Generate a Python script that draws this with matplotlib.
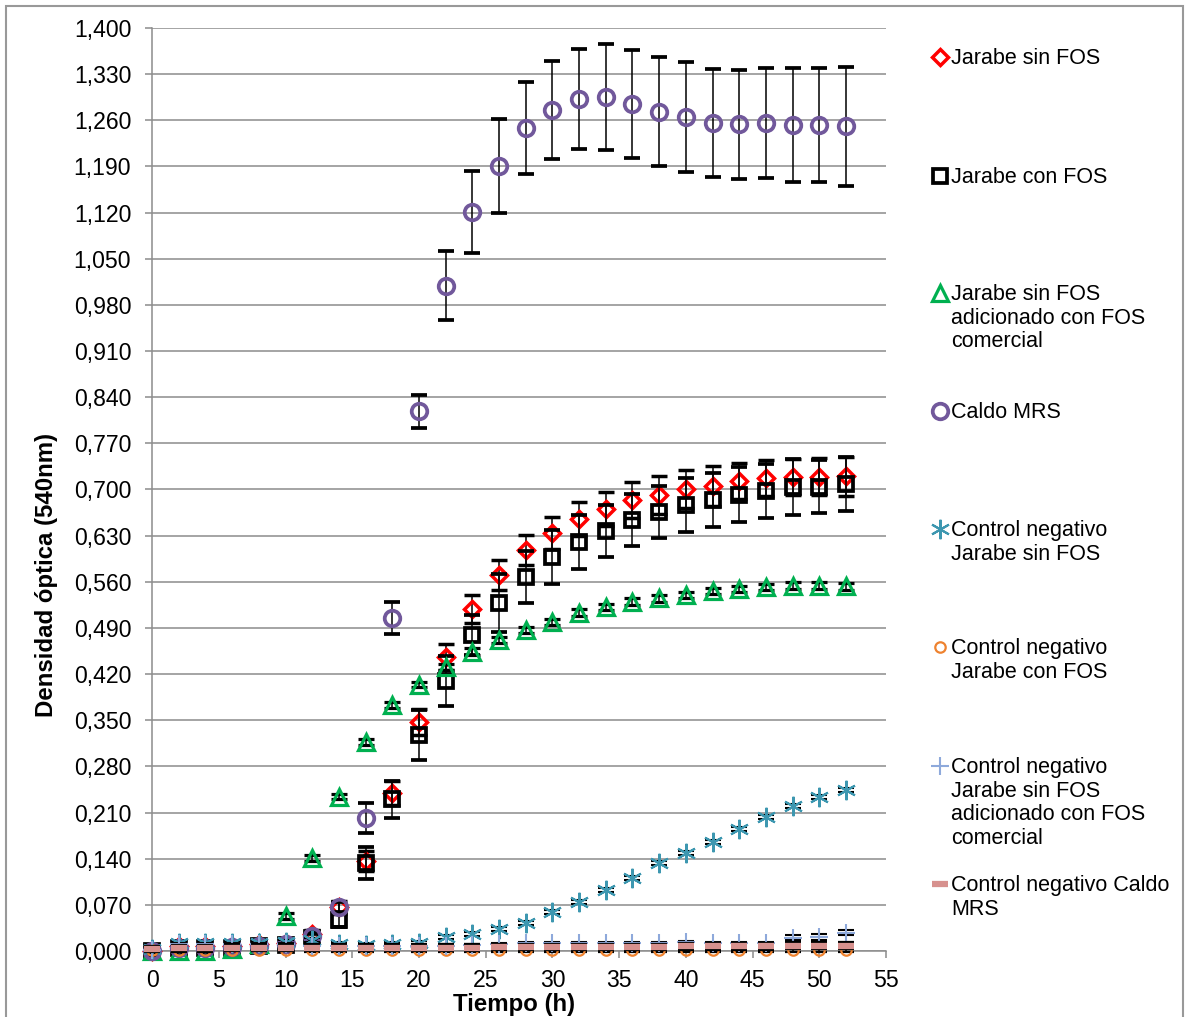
import matplotlib
matplotlib.use("Agg")
import matplotlib.pyplot as plt
from matplotlib.lines import Line2D
from matplotlib.patches import Rectangle
from matplotlib.ticker import FuncFormatter, MultipleLocator

plt.rcParams['font.family'] = ['Liberation Sans', 'DejaVu Sans']

# Sampling times (h)
tiempo = [0, 2, 4, 6, 8, 10, 12, 14, 16, 18, 20, 22, 24, 26, 28, 30,
          32, 34, 36, 38, 40, 42, 44, 46, 48, 50, 52]

# Optical density (540 nm) for each culture medium, with standard deviations
jarabe_sin_fos = [0.000, 0.008, 0.008, 0.008, 0.010, 0.012, 0.026, 0.066, 0.137, 0.240,
                  0.347, 0.446, 0.519, 0.570, 0.608, 0.634, 0.655, 0.670, 0.684, 0.692,
                  0.701, 0.705, 0.713, 0.717, 0.719, 0.719, 0.720]
jarabe_sin_fos_sd = [0.002, 0.003, 0.003, 0.003, 0.003, 0.004, 0.006, 0.010, 0.015, 0.018,
                     0.020, 0.020, 0.021, 0.023, 0.023, 0.025, 0.026, 0.026, 0.027, 0.029,
                     0.029, 0.030, 0.027, 0.027, 0.027, 0.028, 0.030]

jarabe_con_fos = [0.000, 0.005, 0.005, 0.005, 0.007, 0.009, 0.020, 0.047, 0.133, 0.230,
                  0.328, 0.409, 0.479, 0.528, 0.567, 0.598, 0.620, 0.637, 0.654, 0.666,
                  0.677, 0.684, 0.692, 0.698, 0.704, 0.704, 0.708]
jarabe_con_fos_sd = [0.002, 0.003, 0.003, 0.003, 0.003, 0.004, 0.006, 0.010, 0.024, 0.028,
                     0.038, 0.038, 0.030, 0.044, 0.039, 0.041, 0.041, 0.039, 0.039, 0.039,
                     0.041, 0.041, 0.042, 0.041, 0.042, 0.040, 0.041]

jarabe_fos_comercial = [0.000, 0.000, 0.000, 0.003, 0.010, 0.053, 0.141, 0.234, 0.317, 0.373,
                        0.404, 0.431, 0.454, 0.472, 0.487, 0.499, 0.513, 0.522, 0.530, 0.535,
                        0.540, 0.546, 0.549, 0.552, 0.554, 0.554, 0.553]
jarabe_fos_comercial_sd = [0.002, 0.002, 0.002, 0.002, 0.003, 0.004, 0.004, 0.004, 0.004, 0.004,
                           0.004, 0.005, 0.005, 0.005, 0.005, 0.005, 0.005, 0.005, 0.005, 0.005,
                           0.005, 0.005, 0.005, 0.005, 0.005, 0.005, 0.005]

caldo_mrs = [0.000, 0.005, 0.005, 0.006, 0.007, 0.010, 0.023, 0.067, 0.202, 0.505,
             0.819, 1.009, 1.121, 1.191, 1.248, 1.276, 1.292, 1.295, 1.285, 1.273,
             1.265, 1.256, 1.254, 1.256, 1.253, 1.253, 1.251]
caldo_mrs_sd = [0.002, 0.003, 0.003, 0.003, 0.003, 0.004, 0.005, 0.008, 0.023, 0.024,
                0.025, 0.052, 0.062, 0.071, 0.070, 0.074, 0.076, 0.080, 0.082, 0.083,
                0.083, 0.082, 0.083, 0.083, 0.087, 0.087, 0.090]

cn_jarabe_sin_fos = [0.003, 0.012, 0.012, 0.012, 0.012, 0.013, 0.016, 0.010, 0.009, 0.010,
                     0.012, 0.021, 0.026, 0.033, 0.042, 0.059, 0.074, 0.093, 0.111, 0.133,
                     0.149, 0.165, 0.185, 0.203, 0.220, 0.234, 0.244]
cn_jarabe_sin_fos_sd = [0.002] * 5 + [0.003] * 22

cn_jarabe_con_fos = [0.002, 0.002, 0.002, 0.002, 0.002, 0.002, 0.001, 0.001, 0.001, 0.001,
                     0.001, 0.001, 0.001, 0.001, 0.001, 0.001, 0.001, 0.001, 0.001, 0.001,
                     0.001, 0.001, 0.001, 0.001, 0.001, 0.001, 0.001]
cn_jarabe_con_fos_sd = [0.002] * 27

cn_jarabe_fos_comercial = [0.001, 0.010, 0.010, 0.010, 0.010, 0.010, 0.008, 0.007, 0.007, 0.007,
                           0.007, 0.008, 0.009, 0.010, 0.012, 0.012, 0.012, 0.012, 0.012, 0.012,
                           0.013, 0.012, 0.012, 0.012, 0.020, 0.021, 0.028]
cn_jarabe_fos_comercial_sd = [0.002] * 24 + [0.004, 0.005, 0.004]

cn_caldo_mrs = [0.003, 0.004, 0.004, 0.005, 0.005, 0.005, 0.005, 0.005, 0.005, 0.005,
                0.005, 0.005, 0.005, 0.006, 0.006, 0.006, 0.006, 0.006, 0.006, 0.006,
                0.007, 0.007, 0.007, 0.007, 0.008, 0.008, 0.008]
cn_caldo_mrs_sd = [0.002] * 27

etiquetas = ["Jarabe sin FOS",
             "Jarabe con FOS",
             "Jarabe sin FOS\nadicionado con FOS\ncomercial",
             "Caldo MRS",
             "Control negativo\nJarabe sin FOS",
             "Control negativo\nJarabe con FOS",
             "Control negativo\nJarabe sin FOS\nadicionado con FOS\ncomercial",
             "Control negativo Caldo\nMRS"]

series = [
    (jarabe_sin_fos, jarabe_sin_fos_sd,
     dict(marker='D', ms=8.2, mew=2.5, mec='#FF0000', mfc='none')),
    (jarabe_con_fos, jarabe_con_fos_sd,
     dict(marker='s', ms=9.5, mew=2.7, mec='#000000', mfc='none')),
    (jarabe_fos_comercial, jarabe_fos_comercial_sd,
     dict(marker='^', ms=11, mew=2.3, mec='#00B050', mfc='none')),
    (caldo_mrs, caldo_mrs_sd,
     dict(marker='o', ms=11.2, mew=2.7, mec='#71589B', mfc='none')),
    (cn_jarabe_sin_fos, cn_jarabe_sin_fos_sd,
     dict(marker=(6, 2, 0), ms=14, mew=1.5, mec='#3D97B0', mfc='none')),
    (cn_jarabe_con_fos, cn_jarabe_con_fos_sd,
     dict(marker='o', ms=7.5, mew=1.6, mec='#EE822F', mfc='none')),
    (cn_jarabe_fos_comercial, cn_jarabe_fos_comercial_sd,
     dict(marker='+', ms=12.5, mew=1.5, mec='#8EA9DB', mfc='none')),
    (cn_caldo_mrs, cn_caldo_mrs_sd,
     dict(marker='_', ms=11, mew=4.5, mec='#D7918E', mfc='none')),
]

fig = plt.figure(figsize=(11.86, 10.17), dpi=100)
ax = fig.add_axes([0.1282, 0.0649, 0.6189, 0.9076])

for i, (y, sd, estilo) in enumerate(series):
    ax.errorbar(tiempo, y, yerr=sd, ls='none', ecolor='black', elinewidth=1.1,
                capsize=5.5, capthick=1.0, zorder=3 + i, clip_on=False, **estilo)

ax.set_xlim(0, 55)
ax.set_ylim(0, 1.4)
ax.xaxis.set_major_locator(MultipleLocator(5))
ax.yaxis.set_major_locator(MultipleLocator(0.07))
ax.yaxis.set_major_formatter(FuncFormatter(lambda v, p: f"{v:.3f}".replace('.', ',')))

ax.grid(axis='y', color='#8C8C8C', lw=1.1)
ax.set_axisbelow(True)
for lado in ['top', 'right']:
    ax.spines[lado].set_visible(False)
for lado in ['left', 'bottom']:
    ax.spines[lado].set_color('#8C8C8C')
    ax.spines[lado].set_linewidth(1.1)
ax.tick_params(axis='both', direction='out', length=5, width=1.1, color='#8C8C8C',
               labelsize=16.6)
ax.tick_params(axis='y', pad=10)
ax.tick_params(axis='x', pad=8)

ax.set_xlabel("Tiempo (h)", fontsize=17.3, fontweight='bold')
ax.set_ylabel("Densidad óptica (540nm)", fontsize=17.3, fontweight='bold')
ax.xaxis.set_label_coords(0.493, -0.045)
ax.yaxis.set_label_coords(-0.128, 0.407)

# Legend laid out on the right, one entry every ~118 px
leyenda_y = [57, 176, 293, 411, 529, 647, 766, 884]
for (y, sd, estilo), texto, py in zip(series, etiquetas, leyenda_y):
    yf = 1 - py / 1017
    fig.add_artist(Line2D([940 / 1186], [yf], transform=fig.transFigure, ls='none', **estilo))
    fig.text(951 / 1186, yf + 9 / 1017, texto, fontsize=15.5, va='top', ha='left',
             linespacing=1.17)

fig.add_artist(Rectangle((6 / 1186, -0.01), 1177 / 1186, 1 - 6 / 1017 + 0.01,
                         transform=fig.transFigure, fill=False, ec='#999999', lw=1.5))

fig.savefig("out.png", dpi=100)
